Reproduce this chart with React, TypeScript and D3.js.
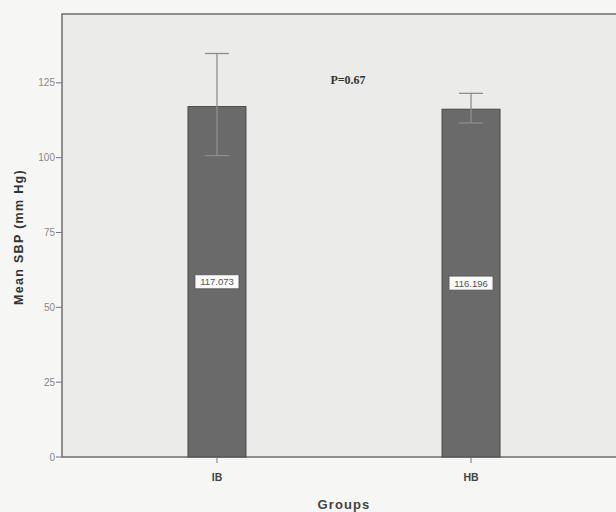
import React from "react";
import * as d3 from "d3";

// chart values
const groups = ["IB", "HB"];
const means = [117.073, 116.196];
const errLow = [100.7, 111.6];
const errHigh = [134.8, 121.5];
const yTicks = [0, 25, 50, 75, 100, 125];
const pLabel = "P=0.67";

const width = 616;
const height = 512;
const margin = { top: 14, left: 62, right: -10, bottom: 55 };

const App = () => {
  const plotBottom = height - margin.bottom;
  const plotRight = width - margin.right;

  const yScale = d3.scaleLinear().domain([0, 148]).range([plotBottom, margin.top]);
  const xScale = d3
    .scalePoint()
    .domain(groups)
    .range([margin.left, plotRight])
    .padding(0.61);
  const barWidth = 58;

  return (
    <svg
      width={width}
      height={height}
      style={{ position: "absolute", left: 0, top: 0, display: "block", background: "#f6f6f4" }}
    >
      {/* plot area */}
      <rect
        x={margin.left}
        y={margin.top}
        width={plotRight - margin.left}
        height={plotBottom - margin.top}
        fill="#ebebea"
        stroke="#6e6e6e"
        strokeWidth={1.5}
      />

      {/* bars */}
      {groups.map((g, i) => {
        const cx = xScale(g)!;
        return (
          <rect
            key={g}
            x={cx - barWidth / 2}
            y={yScale(means[i])}
            width={barWidth}
            height={plotBottom - yScale(means[i])}
            fill="#6a6a6a"
            stroke="#4a4a4a"
            strokeWidth={1}
          />
        );
      })}

      {/* error bars */}
      {groups.map((g, i) => {
        const cx = xScale(g)!;
        return (
          <g key={g} stroke="#8e8e8e" strokeWidth={1.3}>
            <line x1={cx} x2={cx} y1={yScale(errLow[i])} y2={yScale(errHigh[i])} />
            <line x1={cx - 12} x2={cx + 12} y1={yScale(errHigh[i])} y2={yScale(errHigh[i])} />
            <line x1={cx - 12} x2={cx + 12} y1={yScale(errLow[i])} y2={yScale(errLow[i])} />
          </g>
        );
      })}

      {/* value labels */}
      {groups.map((g, i) => {
        const cx = xScale(g)!;
        const cy = yScale(means[i] / 2);
        return (
          <g key={g}>
            <rect x={cx - 22} y={cy - 7} width={44} height={14} fill="#fafafa" stroke="#555" strokeWidth={0.8} />
            <text
              x={cx}
              y={cy + 3.5}
              textAnchor="middle"
              fontFamily="Liberation Sans, Arial, sans-serif"
              fontSize={9.5}
              fill="#555"
            >
              {means[i].toFixed(3)}
            </text>
          </g>
        );
      })}

      {/* y axis */}
      {yTicks.map(t => (
        <g key={t}>
          <line x1={margin.left - 6} x2={margin.left} y1={yScale(t)} y2={yScale(t)} stroke="#777" />
          <text
            x={margin.left - 7}
            y={yScale(t) + 3.5}
            textAnchor="end"
            fontFamily="Liberation Sans, Arial, sans-serif"
            fontSize={10}
            fill="#888"
          >
            {t}
          </text>
        </g>
      ))}

      {/* x axis ticks */}
      {groups.map(g => (
        <g key={g}>
          <line x1={xScale(g)!} x2={xScale(g)!} y1={plotBottom} y2={plotBottom + 6} stroke="#777" />
          <text
            x={xScale(g)!}
            y={plotBottom + 24}
            textAnchor="middle"
            fontFamily="Liberation Sans, Arial, sans-serif"
            fontWeight="bold"
            fontSize={10.5}
            fill="#444"
          >
            {g}
          </text>
        </g>
      ))}

      {/* axis titles */}
      <text
        x={344}
        y={height - 3}
        textAnchor="middle"
        fontFamily="Liberation Sans, Arial, sans-serif"
        fontWeight="bold"
        fontSize={13}
        letterSpacing={1.1}
        fill="#444"
      >
        Groups
      </text>
      <text
        transform={`translate(23, 237) rotate(-90)`}
        textAnchor="middle"
        fontFamily="Liberation Sans, Arial, sans-serif"
        fontWeight="bold"
        fontSize={12.5}
        letterSpacing={1.3}
        fill="#333"
      >
        Mean SBP (mm Hg)
      </text>

      {/* p value */}
      <text
        x={348}
        y={84}
        textAnchor="middle"
        fontFamily="Liberation Serif, Times New Roman, serif"
        fontWeight="bold"
        fontSize={12}
        fill="#333"
      >
        {pLabel}
      </text>
    </svg>
  );
};

export default App;
